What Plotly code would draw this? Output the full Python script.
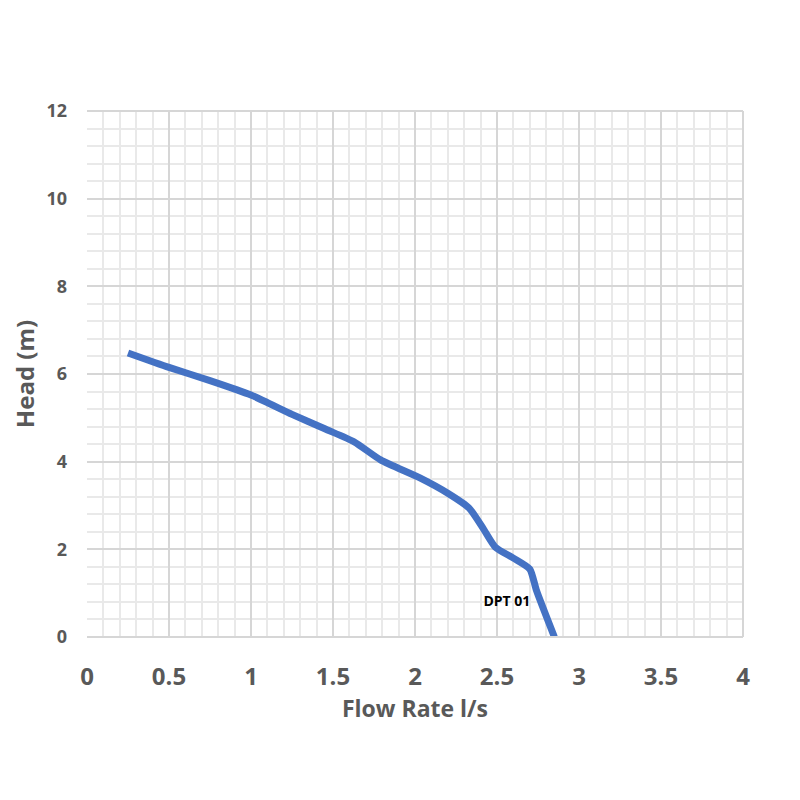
import plotly.graph_objects as go

# pump curve DPT 01
flow = [0.25, 0.5, 0.75, 1.0, 1.25, 1.45, 1.63, 1.79, 2.03, 2.2, 2.33, 2.42, 2.49, 2.6, 2.70, 2.74, 2.85]
head = [6.48, 6.15, 5.85, 5.52, 5.08, 4.75, 4.45, 4.04, 3.63, 3.28, 2.94, 2.45, 2.05, 1.8, 1.55, 1.07, 0.0]

label_x = [2.56]
label_y = [0.78]
label_text = ["DPT 01"]

fig = go.Figure()
fig.add_trace(go.Scatter(x=flow, y=head, mode="lines",
                         line=dict(color="#4472C4", width=7, shape="spline", smoothing=0.6),
                         showlegend=False))
fig.add_trace(go.Scatter(x=label_x, y=label_y, mode="text", text=label_text,
                         textfont=dict(family="Open Sans", size=14, color="black", weight="bold"),
                         showlegend=False))

grey = "#595959"
fig.update_layout(
    width=800, height=800,
    paper_bgcolor="white", plot_bgcolor="white",
    margin=dict(l=79, r=65, t=103, b=171),
    xaxis=dict(range=[0, 4], dtick=0.5, showgrid=True, gridcolor="#d6d6d6", gridwidth=2,
               minor=dict(dtick=0.1, showgrid=True, gridcolor="#e9e9e9", gridwidth=1.5),
               zeroline=False, showline=False, ticks="", automargin=False,
               tickfont=dict(family="Open Sans", size=24, color=grey, weight="bold"),
               ticklabelstandoff=23,
               title=dict(text="Flow Rate l/s", standoff=0,
                          font=dict(family="Open Sans", size=23, color=grey, weight="bold"))),
    yaxis=dict(range=[0, 12], dtick=2, showgrid=True, gridcolor="#d6d6d6", gridwidth=2,
               minor=dict(dtick=0.4, showgrid=True, gridcolor="#e9e9e9", gridwidth=1.5),
               zeroline=False, showline=False, ticks="", automargin=False,
               tickfont=dict(family="Open Sans", size=18, color=grey, weight="bold"),
               ticklabelstandoff=19,
               title=dict(text="Head (m)", standoff=10,
                          font=dict(family="Open Sans", size=24, color=grey, weight="bold"))),
)
for x0, x1, y0, y1 in [(0, 1, 0, 0), (0, 1, 1, 1), (1, 1, 0, 1)]:
    fig.add_shape(type="line", xref="paper", yref="paper", x0=x0, x1=x1, y0=y0, y1=y1,
                  line=dict(color="#d6d6d6", width=2))

fig.write_html("out.html")
